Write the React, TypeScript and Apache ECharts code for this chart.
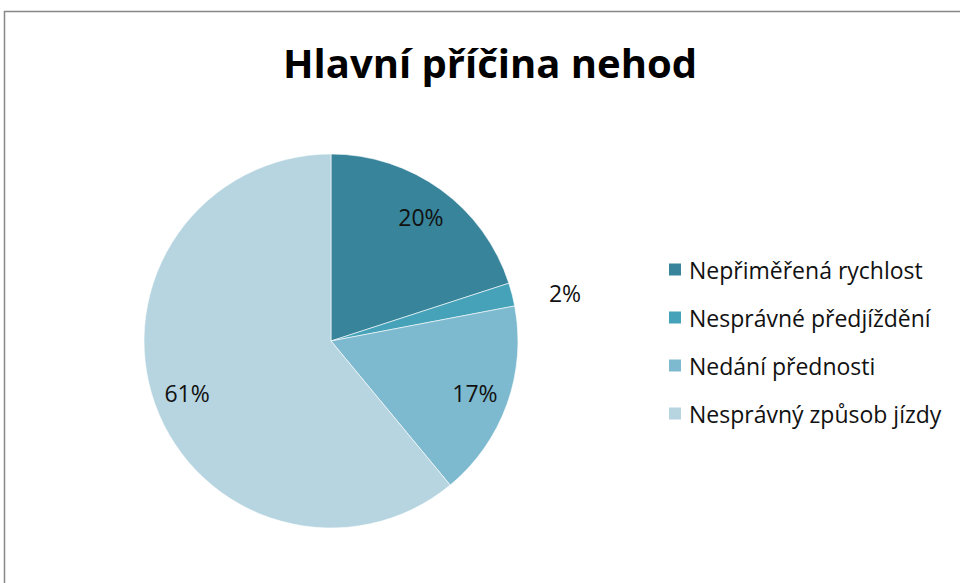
import React, { useEffect, useRef } from "react";
import * as echarts from "echarts";

const categories = ["Nepřiměřená rychlost", "Nesprávné předjíždění", "Nedání přednosti", "Nesprávný způsob jízdy"];
const values = [20, 2, 17, 61];
const colors = ["#38849A", "#45A2B9", "#7EBACF", "#B6D5E0"];
const titleText = "Hlavní příčina nehod";

export default function App() {
  const ref = useRef<HTMLDivElement>(null);
  useEffect(() => {
    const chart = echarts.init(ref.current!, null, { renderer: "svg" });
    const font = "'Open Sans', Lato, sans-serif";
    const mainData = categories.map((name, i) => ({
      name,
      value: values[i],
      itemStyle: { color: colors[i] },
      label: { show: values[i] < 5 },
    }));
    const overlayData = categories.map((name, i) => ({
      name,
      value: values[i],
      label: { show: values[i] >= 5 },
    }));
    chart.setOption({
      animation: false,
      backgroundColor: "#ffffff",
      title: {
        text: titleText,
        left: 485,
        textAlign: "center",
        top: 37,
        textStyle: { fontFamily: font, fontWeight: "bold", fontSize: 40, color: "#000" },
      },
      legend: {
        orient: "vertical",
        left: 662,
        top: 253,
        itemWidth: 14,
        itemHeight: 14,
        itemGap: 25,
        icon: "rect",
        data: categories,
        textStyle: { fontFamily: font, fontSize: 23, color: "#111", padding: [0, 0, 0, 2] },
      },
      graphic: [
        {
          type: "rect",
          shape: { x: 4.5, y: 11.5, width: 1000, height: 1000 },
          style: { fill: "none", stroke: "#888888", lineWidth: 1.5 },
          silent: true,
        },
      ],
      series: [
        {
          type: "pie",
          center: [331, 341],
          radius: [0, 187],
          startAngle: 90,
          clockwise: true,
          itemStyle: { borderColor: "#ffffff", borderWidth: 0.6 },
          label: {
            position: "outside",
            formatter: (p: any) => Math.round(p.percent) + "%",
            fontFamily: font,
            fontSize: 23,
            color: "#111",
          },
          labelLine: { show: false, length: 6, length2: 26 },
          emphasis: { disabled: true },
          data: mainData,
        },
        {
          type: "pie",
          center: [331, 341],
          radius: [113, 187],
          startAngle: 90,
          clockwise: true,
          silent: true,
          itemStyle: { color: "rgba(0,0,0,0)", borderWidth: 0 },
          label: {
            position: "inside",
            formatter: (p: any) => Math.round(p.percent) + "%",
            fontFamily: font,
            fontSize: 23,
            color: "#111",
          },
          labelLine: { show: false },
          emphasis: { disabled: true },
          data: overlayData,
        },
      ],
    });
    return () => chart.dispose();
  }, []);
  return (
    <div
      ref={ref}
      style={{ position: "absolute", left: 0, top: 0, width: 960, height: 583 }}
    />
  );
}
